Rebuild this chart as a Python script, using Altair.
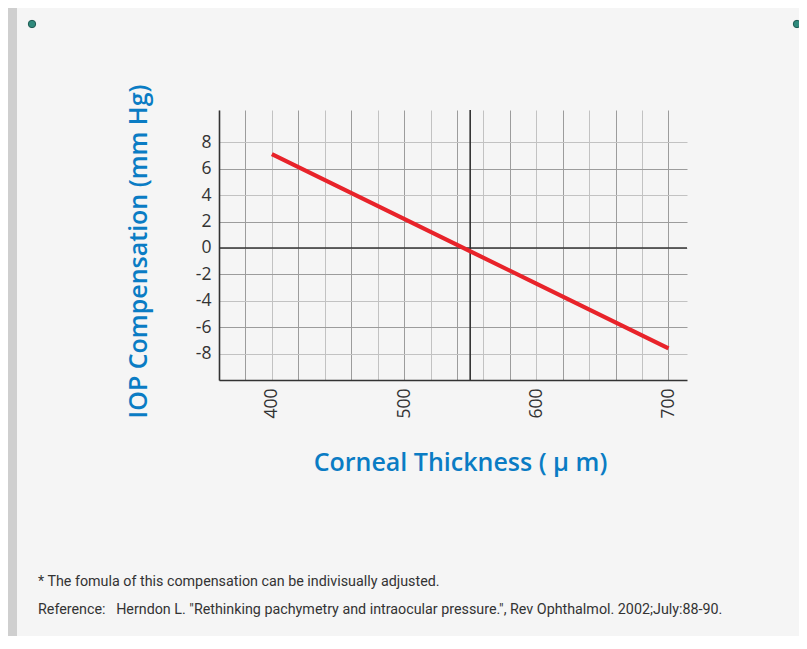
import altair as alt
import pandas as pd

# ---- data ----
thickness = [400, 500, 600, 700]          # corneal thickness (µm)
iop_comp = [7.1, 2.2, -2.7, -7.6]         # IOP compensation (mm Hg)
x_grid = list(range(360, 701, 20))        # vertical grid lines
x_labels = [400, 500, 600, 700]
y_grid = [-8, -6, -4, -2, 0, 2, 4, 6, 8]
ref_x = [550]                             # vertical reference line
ref_y = [0]                               # horizontal reference line
note1 = "* The fomula of this compensation can be indivisually adjusted."
note2 = 'Reference:\u00a0\u00a0 Herndon L. "Rethinking pachymetry and intraocular pressure.", Rev Ophthalmol. 2002;July:88-90.'

BLUE = "#0a7cc4"
DARK = "#333333"
GRID_LIGHT = "#c2c2c2"
GRID_DARK = "#9c9c9c"
FONT = "Open Sans"

W, H = 468, 270
xscale = alt.Scale(domain=[360, 714], nice=False, zero=False)
yscale = alt.Scale(domain=[-10, 10.45], nice=False, zero=False)

line_df = pd.DataFrame({"t": thickness, "iop": iop_comp})

x_axis = alt.Axis(
    values=x_grid, tickCount=200,
    labelExpr="datum.value % 100 === 0 ? '' + datum.value : ''",
    labelOverlap=False,
    labelAngle=-90, labelPadding=8, labelFontSize=17.5, labelColor=DARK,
    labelFont=FONT, ticks=False, grid=True, gridWidth=1,
    gridColor={"condition": {"test": "datum.value % 40 === 0", "value": GRID_LIGHT},
               "value": GRID_DARK},
    domainColor=DARK, domainWidth=1.6,
    title="Corneal Thickness ( μ m)", titleFont=FONT, titleFontSize=25,
    titleFontWeight=600, titleColor=BLUE, titleX=241, titleY=82,
    titleBaseline="middle", titleAlign="center",
)
y_axis = alt.Axis(
    values=y_grid, tickCount=200, labelOverlap=False,
    labelExpr="'' + datum.value",
    labelFontSize=17.5, labelColor=DARK, labelFont=FONT,
    labelPadding=8, ticks=False, grid=True, gridWidth=1,
    gridColor={"condition": {"test": "abs(datum.value) % 4 === 0", "value": GRID_LIGHT},
               "value": GRID_DARK},
    domainColor=DARK, domainWidth=1.6,
    title="IOP Compensation (mm Hg)", titleFont=FONT, titleFontSize=25,
    titleFontWeight=600, titleColor=BLUE, titleX=-81, titleY=141,
    titleAngle=-90, titleBaseline="middle", titleAlign="center",
)

red_line = alt.Chart(line_df).mark_line(color="#e8232a", strokeWidth=4.2).encode(
    x=alt.X("t:Q", scale=xscale, axis=x_axis),
    y=alt.Y("iop:Q", scale=yscale, axis=y_axis),
)

vref = alt.Chart(pd.DataFrame({"x": ref_x})).mark_rule(color=DARK, strokeWidth=1.6).encode(
    x=alt.X("x:Q", scale=xscale)
)
href = alt.Chart(pd.DataFrame({"y": ref_y})).mark_rule(color=DARK, strokeWidth=1.6).encode(
    y=alt.Y("y:Q", scale=yscale)
)

one = pd.DataFrame({"k": [0]})
# decorations: paper edge shadow and pins
left_strip = alt.Chart(one).mark_rect(color="#cfcfcf").encode(
    x=alt.value(-211), x2=alt.value(-202), y=alt.value(-102), y2=alt.value(530)
)
pins = alt.Chart(pd.DataFrame({"px": [-187, 578]})).mark_point(
    filled=True, size=55, color="#2f8a7c", stroke="#1f5a52", strokeWidth=1, opacity=1
).encode(x=alt.X("px:Q", scale=None), y=alt.value(-86))

t1 = alt.Chart(one).mark_text(align="left", baseline="middle", font="Roboto",
                              fontSize=14.3, color=DARK).encode(
    x=alt.value(-181), y=alt.value(472), text=alt.value(note1))
t2 = alt.Chart(one).mark_text(align="left", baseline="middle", font="Roboto",
                              fontSize=14.3, color=DARK).encode(
    x=alt.value(-181), y=alt.value(500), text=alt.value(note2))

chart = alt.layer(left_strip, vref, href, red_line, pins, t1, t2).properties(
    width=W, height=H,
    autosize=alt.AutoSizeParams(type="none"),
    padding={"left": 211, "top": 102, "right": 112, "bottom": 256},
    background="#f5f5f5",
).configure_view(strokeWidth=0)

chart.save("out.html", embed_options={"renderer": "svg", "actions": False})
